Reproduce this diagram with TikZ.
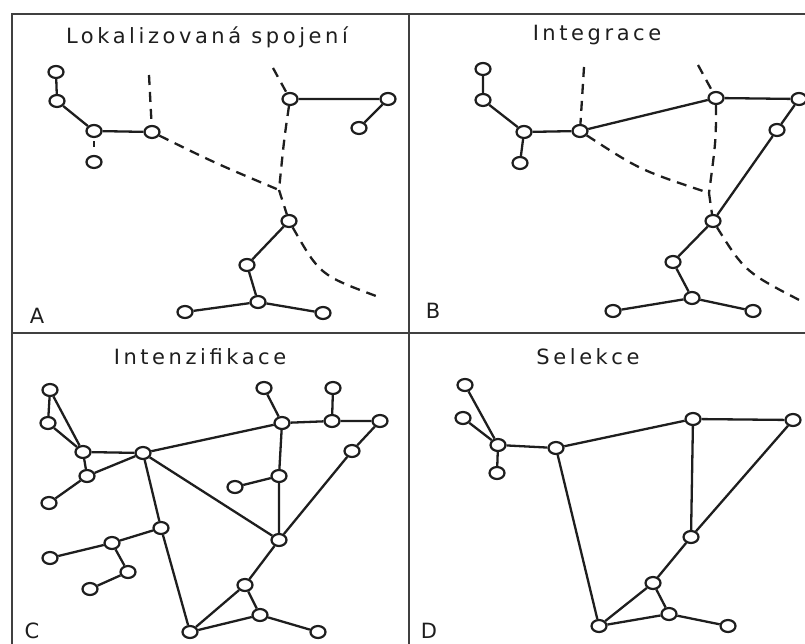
\documentclass[tikz,border=0pt]{standalone}
\usepackage{fontspec}
\setmainfont{DejaVu Sans}
\usetikzlibrary{shapes.geometric}
\definecolor{ink}{HTML}{1E1E1E}
\begin{document}
\begin{tikzpicture}[x=1pt,y=-1pt,
  nd/.style={ellipse, draw=ink, fill=white, line width=2.2pt,
             minimum width=15pt, minimum height=12pt, inner sep=0pt},
  ln/.style={draw=ink, line width=2.3pt},
  bd/.style={draw=ink, line width=2.3pt, dash pattern=on 10pt off 7pt},
  frame/.style={draw=ink!85, line width=1.8pt},
  ttl/.style={font=\fontsize{21}{23}\selectfont\addfontfeatures{LetterSpace=17}, text=ink},
  tag/.style={font=\fontsize{21}{23}\selectfont, text=ink}
]
\useasboundingbox (0,0) rectangle (805,644);

% panel frame
\coordinate (f1) at (12,14);
\coordinate (f2) at (805,14);
\coordinate (f3) at (12,644);
\coordinate (f4) at (409,14);
\coordinate (f5) at (409,644);
\coordinate (f6) at (12,333);
\coordinate (f7) at (805,333);
\draw[frame] (f3) -- (f1) -- (f2);
\draw[frame] (f4) -- (f5);
\draw[frame] (f6) -- (f7);

% ---------- A: Lokalizovaná spojení ----------
\node[ttl] (tA) at (207,37) {Lokalizovaná spojení};
\node[tag] (lA) at (37,316) {A};
\node[nd] (a1) at (56,72) {};
\node[nd] (a2) at (57,101) {};
\node[nd] (a3) at (94,131) {};
\node[nd] (a4) at (94,162) {};
\node[nd] (a5) at (152,132) {};
\node[nd] (a6) at (290,99) {};
\node[nd] (a8) at (388,99) {};
\node[nd] (a9) at (359,128) {};
\node[nd] (a7) at (289,221) {};
\node[nd] (a10) at (247,265) {};
\node[nd] (a11) at (258,302) {};
\node[nd] (a12) at (185,312) {};
\node[nd] (a13) at (323,313) {};
\draw[ln] (a1) -- (a2) -- (a3) -- (a5);
\draw[ln, shorten <=3pt, shorten >=8pt] (a3) -- (a4);
\draw[ln] (a6) -- (a8) -- (a9);
\draw[ln] (a7) -- (a10) -- (a11) -- (a12);
\draw[ln] (a11) -- (a13);
% cut lines
\coordinate (pA1) at (149,75);
\coordinate (pA2) at (273,68);
\coordinate (jA) at (279,190);
\coordinate (eA) at (376,296);
\draw[bd] (pA1) -- (a5);
\draw[bd] (pA2) -- (a6);
\draw[bd] (a6) .. controls (284,140) .. (jA);
\draw[bd] (a5) .. controls (215,163) .. (jA);
\draw[bd] (jA) -- (a7);
\draw[bd] (a7) .. controls (320,275) .. (eA);

% ---------- B: Integrace ----------
\node[ttl] (tB) at (597,35) {Integrace};
\node[tag] (lB) at (433,311) {B};
\node[nd] (b1) at (483,69) {};
\node[nd] (b2) at (483,100) {};
\node[nd] (b3) at (524,132) {};
\node[nd] (b4) at (520,163) {};
\node[nd] (b5) at (580,131) {};
\node[nd] (b6) at (716,98) {};
\node[nd] (b7) at (799,99) {};
\node[nd] (b8) at (777,130) {};
\node[nd] (b9) at (713,221) {};
\node[nd] (b10) at (673,262) {};
\node[nd] (b11) at (692,298) {};
\node[nd] (b12) at (613,311) {};
\node[nd] (b13) at (753,311) {};
\draw[ln] (b1) -- (b2) -- (b3) -- (b5) -- (b6) -- (b7) -- (b8) -- (b9) -- (b10) -- (b11) -- (b12);
\draw[ln] (b3) -- (b4);
\draw[ln] (b11) -- (b13);
% cut lines
\coordinate (pB1) at (584,67);
\coordinate (pB2) at (698,65);
\coordinate (jB) at (709,193);
\coordinate (eB) at (805,303);
\draw[bd] (pB1) -- (b5);
\draw[bd] (pB2) -- (b6);
\draw[bd] (b6) .. controls (716,140) .. (jB);
\draw[bd] (b5) .. controls (640,170) .. (jB);
\draw[bd] (jB) -- (b9);
\draw[bd] (b9) .. controls (745,272) .. (eB);

% ---------- C: Intenzifikace ----------
\node[ttl] (tC) at (200,357) {Intenzifikace};
\node[tag] (lC) at (32,631) {C};
\node[nd] (c1) at (50,390) {};
\node[nd] (c2) at (48,423) {};
\node[nd] (c3) at (83,452) {};
\node[nd] (c4) at (87,476) {};
\node[nd] (c5) at (49,503) {};
\node[nd] (c6) at (143,453) {};
\node[nd] (c7) at (264,388) {};
\node[nd] (c8) at (282,423) {};
\node[nd] (c9) at (333,388) {};
\node[nd] (c10) at (332,421) {};
\node[nd] (c11) at (380,421) {};
\node[nd] (c12) at (352,451) {};
\node[nd] (c13) at (279,476) {};
\node[nd] (c14) at (235,487) {};
\node[nd] (c15) at (279,540) {};
\node[nd] (c16) at (161,528) {};
\node[nd] (c17) at (112,543) {};
\node[nd] (c18) at (50,558) {};
\node[nd] (c19) at (128,572) {};
\node[nd] (c20) at (90,589) {};
\node[nd] (c21) at (245,585) {};
\node[nd] (c22) at (260,615) {};
\node[nd] (c23) at (190,632) {};
\node[nd] (c24) at (318,632) {};
\draw[ln] (c1) -- (c2) -- (c3) -- (c1);
\draw[ln] (c3) -- (c4) -- (c5);
\draw[ln] (c3) -- (c6);
\draw[ln] (c4) -- (c6);
\draw[ln] (c6) -- (c8);
\draw[ln] (c6) -- (c15);
\draw[ln] (c6) -- (c16) -- (c23);
\draw[ln] (c7) -- (c8) -- (c10) -- (c11) -- (c12) -- (c15);
\draw[ln] (c9) -- (c10);
\draw[ln] (c8) -- (c13) -- (c15);
\draw[ln] (c13) -- (c14);
\draw[ln] (c15) -- (c21) -- (c23) -- (c22) -- (c21);
\draw[ln] (c22) -- (c24);
\draw[ln] (c16) -- (c17) -- (c18);
\draw[ln] (c17) -- (c19) -- (c20);

% ---------- D: Selekce ----------
\node[ttl] (tD) at (588,357) {Selekce};
\node[tag] (lD) at (429,631) {D};
\node[nd] (d1) at (465,385) {};
\node[nd] (d2) at (463,418) {};
\node[nd] (d3) at (498,445) {};
\node[nd] (d4) at (497,473) {};
\node[nd] (d5) at (556,448) {};
\node[nd] (d6) at (693,419) {};
\node[nd] (d7) at (793,420) {};
\node[nd] (d8) at (691,537) {};
\node[nd] (d9) at (653,583) {};
\node[nd] (d10) at (669,614) {};
\node[nd] (d11) at (599,626) {};
\node[nd] (d12) at (728,626) {};
\draw[ln] (d1) -- (d3) -- (d2);
\draw[ln] (d3) -- (d4);
\draw[ln] (d3) -- (d5) -- (d6) -- (d7) -- (d8) -- (d6);
\draw[ln] (d5) -- (d11);
\draw[ln] (d8) -- (d9) -- (d11) -- (d10) -- (d9);
\draw[ln] (d10) -- (d12);
\end{tikzpicture}
\end{document}
